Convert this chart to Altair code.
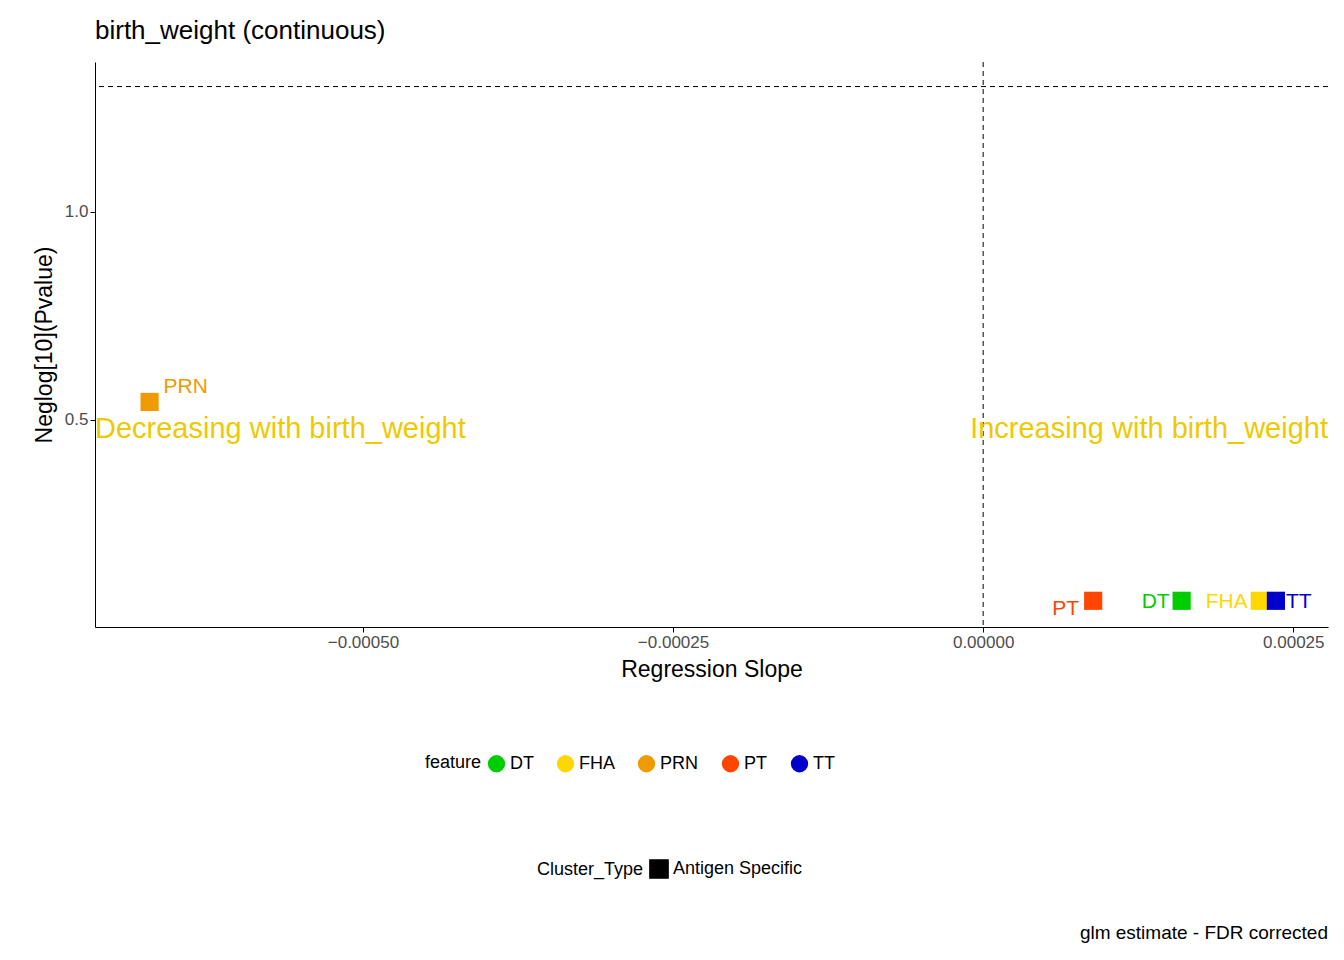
import altair as alt
import pandas as pd

features = ["DT", "FHA", "PRN", "PT", "TT"]
slopes = [0.000160, 0.000223, -0.000672, 0.0000887, 0.000236]
neglog_p = [0.065, 0.065, 0.543, 0.065, 0.065]
cluster = ["Antigen Specific"] * 5
colors = ["#00CD00", "#FFD700", "#EE9A00", "#FF4500", "#0000CD"]

df = pd.DataFrame({"feature": features, "slope": slopes, "p": neglog_p, "Cluster_Type": cluster})

W, H = 1233, 565
xs = alt.Scale(domain=[-0.000716, 0.000278], nice=False, zero=False)
ys = alt.Scale(domain=[0.002, 1.36], nice=False, zero=False)
cs = alt.Scale(domain=features, range=colors)

axis_style = dict(grid=False, domainColor="black", tickColor="black", labelFont="Liberation Sans",
                  titleFont="Liberation Sans", labelFontSize=17, labelColor="#4D4D4D",
                  titleFontSize=23, titleFontWeight="normal", titleColor="black", tickSize=5)

base = alt.Chart(df)

pts = base.mark_point(filled=True, opacity=1, size=330).encode(
    x=alt.X("slope:Q", scale=xs, title="Regression Slope",
            axis=alt.Axis(values=[-0.0005, -0.00025, 0, 0.00025], format=".5f",
                          titlePadding=8, **axis_style)),
    y=alt.Y("p:Q", scale=ys, title="Neglog[10](Pvalue)",
            axis=alt.Axis(values=[0.5, 1.0], format=".1f", titlePadding=8, **axis_style)),
    color=alt.Color("feature:N", scale=cs, legend=alt.Legend(
        orient="none", legendX=330, legendY=692, direction="horizontal",
        titleOrient="left", symbolType="circle", symbolSize=300,
        columnPadding=22, symbolOpacity=1)),
    shape=alt.Shape("Cluster_Type:N", scale=alt.Scale(range=["square"]), legend=alt.Legend(
        orient="none", legendX=442, legendY=797, direction="horizontal",
        titleOrient="left", symbolFillColor="black", symbolStrokeColor="black",
        symbolSize=330)),
)

def lab(names, align, dx, dy):
    return base.transform_filter(alt.FieldOneOfPredicate(field="feature", oneOf=names)).mark_text(
        align=align, dx=dx, dy=dy, fontSize=21, font="Liberation Sans"
    ).encode(x=alt.X("slope:Q", scale=xs), y=alt.Y("p:Q", scale=ys),
             text="feature:N", color=alt.Color("feature:N", scale=cs, legend=None))

labels = [lab(["PRN"], "left", 14, -15), lab(["PT"], "right", -14, 8),
          lab(["DT", "FHA"], "right", -12, 1), lab(["TT"], "left", 10, 1)]

hline = alt.Chart(pd.DataFrame({"y": [1.301]})).mark_rule(strokeDash=[5, 4], color="black").encode(
    y=alt.Y("y:Q", scale=ys))
vline = alt.Chart(pd.DataFrame({"x": [0.0]})).mark_rule(strokeDash=[5, 4], color="black").encode(
    x=alt.X("x:Q", scale=xs))

ann = pd.DataFrame({"x": [-0.000716, 0.000278], "y": [0.478, 0.478],
                    "t": ["Decreasing with birth_weight", "Increasing with birth_weight"]})
ann_l = alt.Chart(ann.iloc[[0]]).mark_text(align="left", fontSize=29, color="#EEC900",
                                           font="Liberation Sans").encode(
    x=alt.X("x:Q", scale=xs), y=alt.Y("y:Q", scale=ys), text="t:N")
ann_r = alt.Chart(ann.iloc[[1]]).mark_text(align="right", fontSize=29, color="#EEC900",
                                           font="Liberation Sans").encode(
    x=alt.X("x:Q", scale=xs), y=alt.Y("y:Q", scale=ys), text="t:N")

caption = alt.Chart(pd.DataFrame({"c": ["glm estimate - FDR corrected"]})).mark_text(
    align="right", baseline="middle", fontSize=19, color="black", font="Liberation Sans"
).encode(x=alt.value(W), y=alt.value(871), text="c:N")

chart = alt.layer(hline, vline, ann_l, ann_r, pts, *labels, caption).properties(
    width=W, height=H,
    autosize=alt.AutoSizeParams(type="none"),
    padding={"left": 87, "top": 54, "right": 8, "bottom": 325},
    title=alt.TitleParams("birth_weight (continuous)", anchor="start", frame="group",
                          fontSize=26, fontWeight="normal", font="Liberation Sans",
                          offset=18, color="black"),
).configure_view(stroke=None).configure_legend(
    labelFont="Liberation Sans", titleFont="Liberation Sans", labelFontSize=18,
    titleFontSize=18, titleFontWeight="normal", labelColor="black", titleColor="black"
)

chart.save("out.html", embed_options={"renderer": "svg", "actions": False})
